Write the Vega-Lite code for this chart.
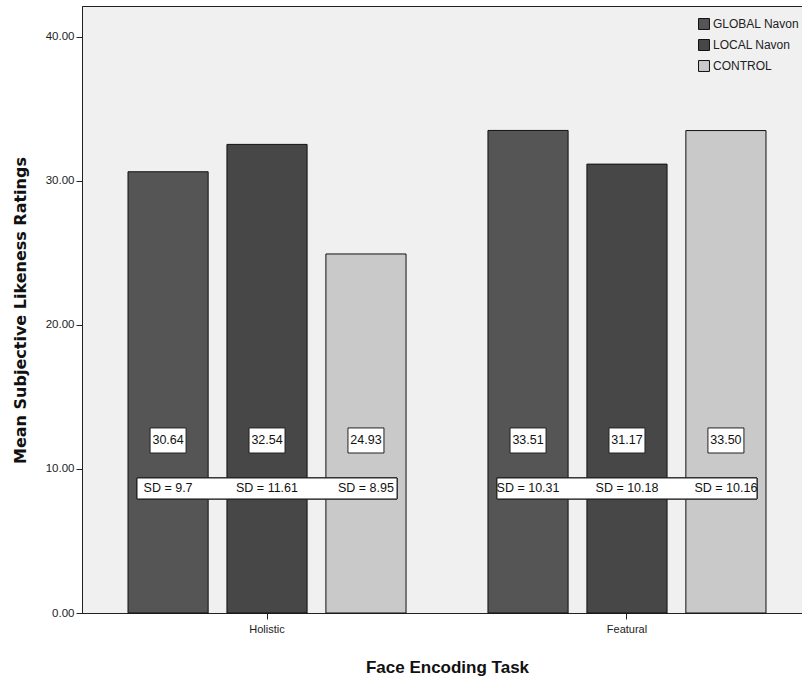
{
  "$schema": "https://vega.github.io/schema/vega-lite/v6.json",
  "width": 730,
  "height": 607,
  "autosize": "none",
  "padding": {"left": 82, "top": 6, "right": 0, "bottom": 66},
  "background": "white",
  "config": {
    "view": {"fill": "#f0f0f0", "stroke": "#222222", "strokeWidth": 1},
    "font": "Liberation Sans"
  },
  "data": {
    "values": [
      {"task": "Holistic", "condition": "GLOBAL Navon", "mean": 30.64, "sd": 9.7},
      {"task": "Holistic", "condition": "LOCAL Navon", "mean": 32.54, "sd": 11.61},
      {"task": "Holistic", "condition": "CONTROL", "mean": 24.93, "sd": 8.95},
      {"task": "Featural", "condition": "GLOBAL Navon", "mean": 33.51, "sd": 10.31},
      {"task": "Featural", "condition": "LOCAL Navon", "mean": 31.17, "sd": 10.18},
      {"task": "Featural", "condition": "CONTROL", "mean": 33.50, "sd": 10.16}
    ]
  },
  "encoding": {
    "x": {
      "field": "task", "type": "nominal", "sort": ["Holistic", "Featural"],
      "scale": {"paddingInner": 0, "paddingOuter": 0.014},
      "axis": {
        "title": "Face Encoding Task", "labelAngle": 0, "labelFontSize": 11, "labelColor": "#222",
        "labelFont": "Liberation Sans", "labelPadding": 4,
        "tickColor": "#222", "tickSize": 6, "domainColor": "#222",
        "titleFont": "Liberation Sans", "titleFontWeight": "bold", "titleFontSize": 17,
        "titleColor": "#111", "titleX": 365, "titleY": 54, "titleAnchor": "middle", "titleBaseline": "middle"
      }
    },
    "xOffset": {
      "field": "condition", "type": "nominal", "sort": ["GLOBAL Navon", "LOCAL Navon", "CONTROL"],
      "scale": {"paddingInner": 0.19, "paddingOuter": 0.414}
    }
  },
  "layer": [
    {
      "mark": {"type": "bar", "stroke": "#111", "strokeWidth": 1},
      "encoding": {
        "y": {
          "field": "mean", "type": "quantitative",
          "scale": {"domain": [0, 42.15], "nice": false, "zero": true},
          "axis": {
            "title": "Mean Subjective Likeness Ratings", "values": [0, 10, 20, 30, 40], "format": ".2f",
            "grid": false, "labelFontSize": 11.5, "labelColor": "#222", "labelPadding": 2,
            "tickColor": "#222", "tickSize": 6, "domainColor": "#222",
            "titleFont": "DejaVu Sans", "titleFontWeight": "bold", "titleFontSize": 16, "titleColor": "#111",
            "titleX": -62, "titleY": 304, "titleAnchor": "middle", "titleBaseline": "middle"
          }
        },
        "fill": {
          "field": "condition", "type": "nominal", "sort": ["GLOBAL Navon", "LOCAL Navon", "CONTROL"],
          "scale": {"range": ["#555555", "#474747", "#c9c9c9"]},
          "legend": {
            "title": null, "orient": "none", "legendX": 616, "legendY": 12,
            "symbolType": "square", "symbolSize": 120, "symbolStrokeColor": "#111", "symbolStrokeWidth": 1,
            "labelFontSize": 12, "labelColor": "#222", "rowPadding": 5, "labelOffset": 3, "padding": 0
          }
        }
      }
    },
    {
      "mark": {"type": "bar", "fill": "white", "stroke": "#222", "strokeWidth": 1, "width": 260},
      "encoding": {
        "xOffset": null,
        "y": {"datum": 9.375, "type": "quantitative"},
        "y2": {"datum": 7.92}
      }
    },
    {
      "mark": {"type": "bar", "fill": "white", "stroke": "#222", "strokeWidth": 1, "width": 36},
      "encoding": {
        "y": {"datum": 12.85, "type": "quantitative"},
        "y2": {"datum": 11.11}
      }
    },
    {
      "mark": {"type": "text", "fontSize": 12.5, "color": "#111", "baseline": "middle"},
      "encoding": {
        "y": {"datum": 11.98, "type": "quantitative"},
        "text": {"field": "mean", "type": "quantitative", "format": ".2f"}
      }
    },
    {
      "transform": [{"calculate": "'SD = ' + datum.sd", "as": "sdLabel"}],
      "mark": {"type": "text", "fontSize": 12.5, "color": "#111", "baseline": "middle"},
      "encoding": {
        "y": {"datum": 8.65, "type": "quantitative"},
        "text": {"field": "sdLabel", "type": "nominal"}
      }
    }
  ]
}
